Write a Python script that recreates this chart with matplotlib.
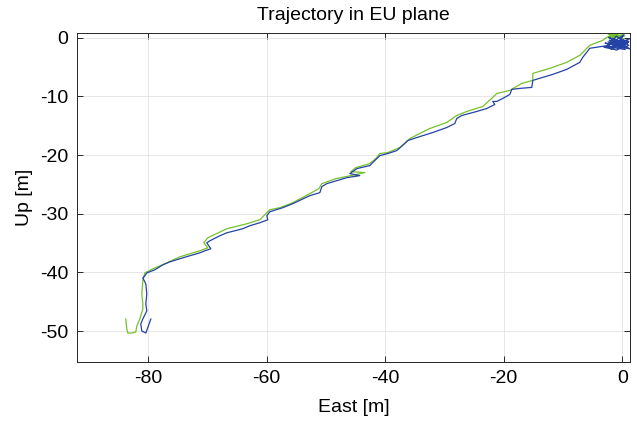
import numpy as np
import matplotlib
matplotlib.use("Agg")
import matplotlib.pyplot as plt

# trajectory estimates (East, Up) in metres
# blue: starts in the tangle near the origin and ends at the bottom-left
blue_east = [0.2, -1.5, 0.8, -2.2, -0.4, 1.1, -1.0, -2.6, 0.5, -0.8, 1.2, -1.9,
             0.0, -2.3, 0.9, -1.2, 0.3, -2.0, 1.0, -0.6, -2.4, 0.6, -1.6, -0.2,
             -2.9, 1.3, -1.4, 0.4, -3.1, -0.9, 1.1, -2.5,
             -2.11, -3.29, -5.48, -6.66, -7.17, -9.36, -11.72, -13.41, -15.09, -15.26,
             -17.28, -18.63, -18.97, -20.15, -21.16, -21.84, -21.50, -22.85, -24.54,
             -27.07, -27.91, -28.25, -29.60, -31.96, -34.65, -36.17, -36.68, -38.03,
             -39.54, -40.89, -41.74, -42.58, -44.77, -45.95, -44.27, -46.46, -49.83,
             -50.67, -51.01, -52.70, -55.57, -57.25, -59.44, -59.95, -59.78, -61.13,
             -62.82, -64.00, -66.69, -67.88, -69.56, -70.07, -69.39, -70.40, -71.25,
             -74.11, -76.31, -77.49, -78.84, -80.19, -80.52, -80.86, -80.35, -80.19,
             -80.35, -80.19, -80.86, -81.20, -81.03, -80.35, -79.51]
blue_up = [-0.3, -1.2, -0.6, -0.4, -1.8, -1.3, 0.3, -1.5, -2.0, -0.9, -0.2, -1.9,
           -1.1, 0.1, -1.7, -1.4, 0.5, -1.0, -0.8, -1.6, -0.7, -1.1, -0.1, -1.5,
           -0.9, -1.9, -0.3, -1.4, -1.6, -2.1, -0.6, -1.2,
           -1.28, -1.45, -1.79, -3.33, -4.19, -5.38, -6.24, -6.75, -7.26, -8.46,
           -8.63, -8.80, -9.66, -10.34, -10.85, -10.85, -11.37, -12.05, -12.56,
           -13.25, -13.76, -14.62, -15.30, -16.15, -17.01, -17.52, -18.03, -19.23,
           -19.74, -20.09, -20.94, -21.79, -22.31, -23.16, -23.50, -23.85, -24.87,
           -25.38, -26.41, -26.92, -28.29, -28.97, -29.66, -30.34, -31.03, -31.54,
           -32.05, -32.56, -33.25, -33.76, -34.62, -34.96, -35.98, -36.32, -36.67,
           -37.52, -38.21, -38.72, -39.57, -40.09, -40.60, -40.94, -41.97, -43.68,
           -45.38, -46.58, -47.95, -48.80, -50.00, -50.34, -47.95]

# green: second estimate of the same run
green_east = [0.0, -1.2, 0.3, -2.0, -0.6, 0.2, -1.6, -2.4, -0.3, -1.0, 0.4, -2.2,
              -0.8, -1.9, -2.61, -3.29, -5.48, -7.17, -9.36, -12.23, -15.09, -15.09,
              -16.95, -18.97, -21.16, -21.84, -23.52, -26.22, -27.91, -29.60, -32.46,
              -34.15, -35.83, -37.52, -39.54, -40.89, -41.40, -42.58, -44.94, -45.78,
              -43.42, -46.63, -48.31, -50.67, -51.18, -52.70, -55.57, -57.76, -59.44,
              -59.95, -61.13, -63.32, -66.69, -69.90, -70.57, -69.90, -71.25, -74.62,
              -76.81, -79.17, -80.52, -80.86, -81.03, -80.86, -80.86, -81.37, -81.87,
              -82.04, -82.72, -83.39, -83.56, -83.73]
green_up = [0.2, 0.6, -0.3, 0.4, 0.8, 0.5, -0.2, 0.7, 0.1, 0.5, 0.3, -0.1,
            0.7, 0.3, 0.09, -0.43, -1.28, -2.99, -4.19, -5.21, -6.07, -7.26,
            -7.78, -8.97, -9.49, -10.17, -11.71, -12.56, -13.25, -14.44, -15.47,
            -16.32, -17.18, -18.72, -19.57, -19.74, -20.43, -21.45, -22.14, -22.82,
            -22.99, -23.68, -24.02, -24.87, -25.73, -26.58, -28.12, -28.97, -29.32,
            -29.83, -31.03, -31.71, -32.56, -34.10, -34.96, -35.81, -36.32, -37.35,
            -38.38, -39.40, -40.09, -41.45, -43.68, -45.38, -46.24, -47.95, -49.15,
            -50.17, -50.34, -50.34, -49.66, -47.95]

x_ticks = [-80, -60, -40, -20, 0]
y_ticks = [0, -10, -20, -30, -40, -50]

plt.rcParams['font.family'] = ['Liberation Sans', 'DejaVu Sans']
plt.rcParams['axes.unicode_minus'] = False

fig = plt.figure(figsize=(6.37, 4.25), dpi=100)
ax = fig.add_axes([0.1205, 0.148, 0.8685, 0.7755])

ax.plot(green_east, green_up, color="#76c12a", lw=0.9)
ax.plot(blue_east, blue_up, color="#2443a6", lw=0.9)

ax.set_xlim(-92, 1.3)
ax.set_ylim(-55.3, 0.9)
ax.set_xticks(x_ticks)
ax.set_yticks(y_ticks)
ax.tick_params(direction="in", top=True, right=True, length=4, width=0.7,
               labelsize=14, colors="#262626")
ax.tick_params(labelcolor="black")
ax.tick_params(axis="x", pad=6)
ax.tick_params(axis="y", pad=6)
ax.grid(True, color="#e3e3e3", lw=0.6)
ax.set_axisbelow(True)
for s in ax.spines.values():
    s.set_color("#262626")
    s.set_linewidth(0.7)

ax.set_title("Trajectory in EU plane", fontsize=14, pad=9)
ax.set_xlabel("East [m]", fontsize=14, labelpad=8)
ax.set_ylabel("Up [m]", fontsize=14, labelpad=5)

fig.savefig("out.png", dpi=100)
